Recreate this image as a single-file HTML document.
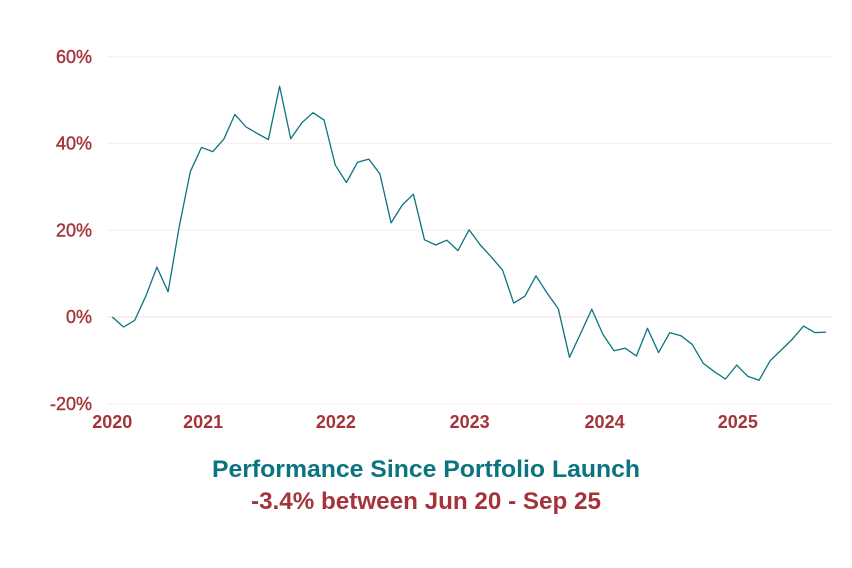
<!DOCTYPE html>
<html><head><meta charset="utf-8"><style>
body{margin:0;background:#fff;}
svg{display:block;font-family:"Liberation Sans",sans-serif;}
</style></head><body>
<svg id="chart" width="852" height="568" viewBox="0 0 852 568" xmlns="http://www.w3.org/2000/svg">
<g id="grid"></g>
<g id="yaxis"></g>
<g id="xaxis"></g>
<path id="line" fill="none" stroke="#0b7480" stroke-width="1.3" stroke-linejoin="round"/>
<text x="426" y="477" text-anchor="middle" font-size="24" font-weight="bold" fill="#0b7480" textLength="428" lengthAdjust="spacingAndGlyphs">Performance Since Portfolio Launch</text>
<text x="426" y="509" text-anchor="middle" font-size="24" font-weight="bold" fill="#a4343a" textLength="350" lengthAdjust="spacingAndGlyphs">-3.4% between Jun 20 - Sep 25</text>
</svg>
<script>
const values = [0,-2.3,-0.8,4.8,11.5,5.8,20.8,33.5,39.1,38.1,41,46.7,43.8,42.3,40.9,53.2,41.1,44.8,47.1,45.4,35,31,35.7,36.4,33,21.7,25.8,28.3,17.8,16.6,17.7,15.3,20.1,16.6,13.8,10.8,3.2,4.8,9.5,5.5,1.9,-9.3,-3.8,1.8,-4,-7.8,-7.2,-9,-2.6,-8.2,-3.6,-4.3,-6.3,-10.7,-12.6,-14.3,-11.1,-13.7,-14.6,-10.1,-7.6,-5.1,-2.1,-3.6,-3.5];
const yTicks = [-20,0,20,40,60];
const xTickLabels = ["2020","2021","2022","2023","2024","2025"];
const xTickIndex = [0,8.15,20.05,32.05,44.15,56.1];

const NS="http://www.w3.org/2000/svg";
const x0=112.3, step=11.15;
function xs(i){return x0+i*step;}
function ys(v){return 317-v*4.3375;}

const grid=document.getElementById('grid'), yaxis=document.getElementById('yaxis'), xaxis=document.getElementById('xaxis');
yTicks.forEach(t=>{
  const l=document.createElementNS(NS,'line');
  
  
  l.setAttribute('x1',107);l.setAttribute('x2',832);
  l.setAttribute('y1',ys(t));l.setAttribute('y2',ys(t));
  l.setAttribute('stroke',t===0?'#ecdde0':'#f7eef0');l.setAttribute('stroke-width',1);
  grid.appendChild(l);
  const tx=document.createElementNS(NS,'text');
  
  
  tx.setAttribute('x',92);tx.setAttribute('y',ys(t)+6);
  tx.setAttribute('text-anchor','end');tx.setAttribute('font-size','18');
  tx.setAttribute('fill','#a4343a');tx.setAttribute('stroke','#a4343a');tx.setAttribute('stroke-width','0.4');
  tx.textContent=t+'%';
  yaxis.appendChild(tx);
});
xTickLabels.forEach((lab,i)=>{
  const tx=document.createElementNS(NS,'text');
  
  
  tx.setAttribute('x',xs(xTickIndex[i]));tx.setAttribute('y',428);
  tx.setAttribute('text-anchor','middle');tx.setAttribute('font-size','18');
  tx.setAttribute('font-weight','bold');tx.setAttribute('fill','#a4343a');
  tx.textContent=lab;
  xaxis.appendChild(tx);
});
document.getElementById('line').setAttribute('d',values.map((v,i)=>(i?'L':'M')+xs(i).toFixed(1)+','+ys(v).toFixed(1)).join(''));
</script>
</body></html>
